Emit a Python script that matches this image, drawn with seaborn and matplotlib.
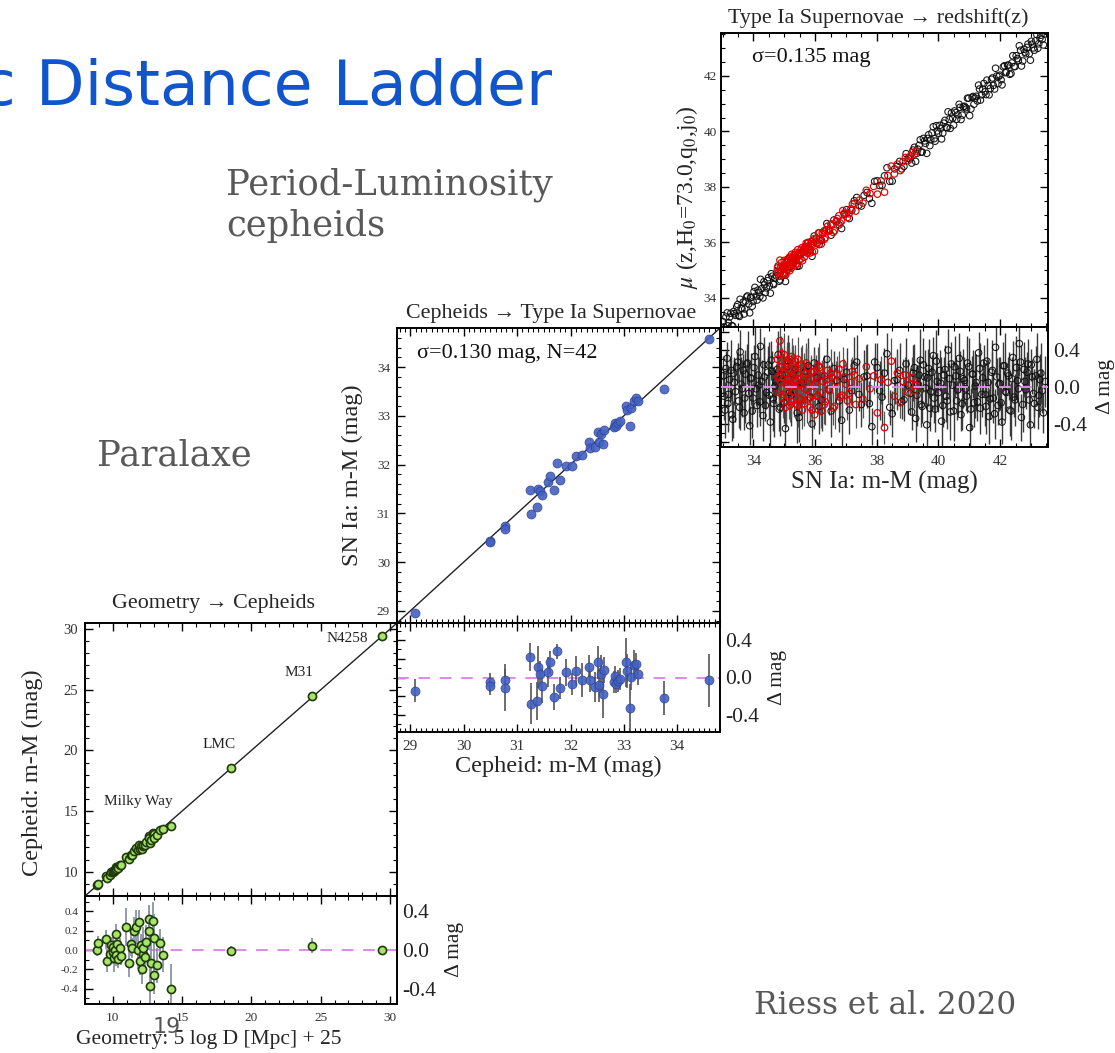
import numpy as np
import pandas as pd
import matplotlib
matplotlib.use("Agg")
import matplotlib.pyplot as plt
import seaborn as sns
from matplotlib.ticker import MultipleLocator, FixedLocator, FormatStrFormatter

# ---------------- data ----------------
# Panel A: Geometry -> Cepheids
geo_x = [8.9, 8.95, 9.5, 9.6, 9.8, 9.9, 10.0, 10.05, 10.1, 10.15,
         10.2, 10.25, 10.3, 10.4, 10.5, 10.6, 10.95, 11.2, 11.3, 11.4,
         11.5, 11.7, 11.8, 11.9, 12.0, 12.05, 12.1, 12.15, 12.2, 12.3,
         12.4, 12.6, 12.62, 12.7, 12.75, 12.9, 12.95, 13.0, 13.2, 13.4,
         13.6, 14.2, 18.55, 24.4, 29.4]
geo_resid = [0.0, 0.07, 0.11, -0.11, -0.04, 0.05, -0.02, 0.03, -0.08, 0.0,
             0.17, -0.05, 0.06, -0.09, 0.02, -0.06, 0.24, -0.13, 0.06, 0.02,
             0.2, 0.24, 0.0, 0.29, -0.11, 0.05, -0.2, -0.04, 0.02, -0.07,
             0.08, 0.32, 0.2, -0.37, -0.13, 0.3, 0.12, -0.26, -0.16, 0.07,
             -0.05, -0.4, -0.01, 0.045, 0.0]
geo_err = [0.06, 0.08, 0.1, 0.12, 0.1, 0.08, 0.12, 0.1, 0.15, 0.1,
           0.1, 0.12, 0.08, 0.1, 0.1, 0.1, 0.2, 0.15, 0.12, 0.1,
           0.14, 0.18, 0.2, 0.12, 0.15, 0.12, 0.15, 0.2, 0.22, 0.15,
           0.18, 0.15, 0.2, 0.3, 0.2, 0.2, 0.25, 0.2, 0.18, 0.15,
           0.18, 0.25, 0.05, 0.08, 0.03]
geo_names = ["Milky Way", "LMC", "M31", "N4258"]

# Panel B: Cepheids -> SN Ia (N=42)
ceph_x = [29.09, 30.49, 30.50, 30.77, 30.78, 31.25, 31.26, 31.37, 31.39, 31.42,
          31.46, 31.58, 31.61, 31.69, 31.75, 31.80, 31.92, 32.03, 32.11, 32.22,
          32.34, 32.37, 32.45, 32.51, 32.54, 32.58, 32.61, 32.63, 32.81, 32.83,
          32.86, 32.89, 32.92, 33.04, 33.05, 33.11, 33.14, 33.18, 33.23, 33.27,
          33.76, 34.60]
ceph_resid = [-0.14, -0.05, -0.09, -0.025, -0.11, 0.22, -0.28, -0.25, 0.11, 0.04,
              -0.09, 0.06, 0.16, -0.21, 0.28, -0.11, 0.054, -0.07, 0.07, -0.025,
              0.115, -0.03, -0.1, 0.16, -0.08, 0.036, -0.18, 0.08, -0.05, 0.018,
              -0.07, -0.036, -0.018, 0.16, 0.07, -0.32, 0.01, 0.13, 0.14, 0.036,
              -0.22, -0.03]
ceph_err = [0.12, 0.1, 0.1, 0.12, 0.25, 0.15, 0.22, 0.2, 0.22, 0.14,
            0.18, 0.16, 0.12, 0.14, 0.08, 0.12, 0.14, 0.12, 0.16, 0.18,
            0.12, 0.12, 0.16, 0.18, 0.18, 0.2, 0.25, 0.14, 0.12, 0.1,
            0.1, 0.12, 0.12, 0.26, 0.18, 0.25, 0.14, 0.16, 0.12, 0.12,
            0.18, 0.28]

# Panel C: SN Ia -> redshift (Hubble-flow sample, black; part 1)
sn_x_black = [33.02, 33.08, 33.15, 33.19, 33.27, 33.33, 33.38, 33.46, 33.52, 33.57,
              33.63, 33.70, 33.74, 33.81, 33.88, 33.93, 33.99, 34.05, 34.12, 34.18,
              34.23, 34.31, 34.36, 34.42, 34.49, 34.55, 34.61, 34.66, 34.74, 34.80,
              34.87, 34.95, 35.04, 35.13, 35.22, 35.36, 35.48, 35.61, 35.77, 35.90,
              36.05, 36.21, 36.38, 36.52, 36.70, 36.86, 37.02, 37.19, 37.35, 37.50,
              37.68, 37.84, 38.01, 38.17, 38.33, 38.50, 38.66, 38.81, 38.95, 39.08,
              39.18, 39.26, 39.33, 39.41, 39.47, 39.55, 39.62, 39.68, 39.75, 39.83,
              39.89, 39.96, 40.04, 40.10, 40.17, 40.25, 40.31, 40.38, 40.46, 40.52,
              40.59, 40.67, 40.73, 40.80, 40.88, 40.94, 41.01, 41.09, 41.15, 41.22,
              41.30, 41.36, 41.43, 41.51, 41.57, 41.64, 41.72, 41.78, 41.85, 41.93,
              41.99, 42.06, 42.14, 42.20, 42.27, 42.35, 42.41, 42.48, 42.56, 42.62,
              42.69, 42.77, 42.83, 42.90, 42.98, 43.04, 43.11, 43.19, 43.25, 43.32,
              43.40, 43.46]
sn_resid_black = [0.12, -0.25, 0.31, -0.08, 0.18, -0.35, 0.05, 0.22, -0.15, 0.38,
                  -0.02, -0.28, 0.14, 0.26, -0.42, 0.09, -0.12, 0.33, -0.20, 0.02,
                  0.44, -0.31, 0.11, -0.06, 0.24, -0.38, 0.17, -0.18, 0.06, 0.35,
                  -0.22, 0.13, -0.45, 0.28, -0.09, 0.19, -0.33, 0.04, 0.23, -0.40,
                  0.10, -0.14, 0.30, -0.26, 0.07, -0.36, 0.16, -0.04, 0.27, -0.19,
                  0.12, -0.43, 0.21, -0.11, 0.36, -0.29, 0.08, -0.16, 0.25, -0.07,
                  0.15, -0.34, 0.03, 0.29, -0.21, 0.11, -0.41, 0.20, -0.05, 0.34,
                  -0.24, 0.06, 0.18, -0.37, 0.13, -0.10, 0.40, -0.27, 0.02, 0.22,
                  -0.15, 0.31, -0.30, 0.09, -0.02, 0.26, -0.44, 0.14, -0.17, 0.05,
                  0.37, -0.23, 0.10, -0.08, 0.28, -0.32, 0.16, -0.12, 0.43, -0.20,
                  0.04, -0.38, 0.23, -0.06, 0.12, -0.26, 0.32, -0.14, 0.07, 0.47,
                  -0.33, 0.19, -0.03, 0.25, -0.41, 0.11, -0.18, 0.30, -0.09, 0.15,
                  -0.28, 0.06]
sn_err_black = [0.22, 0.30, 0.18, 0.27, 0.33, 0.20, 0.25, 0.16, 0.29, 0.24,
                0.31, 0.19, 0.26, 0.35, 0.21, 0.28, 0.17, 0.32, 0.23, 0.30,
                0.20, 0.27, 0.34, 0.18, 0.25, 0.29, 0.22, 0.36, 0.19, 0.26,
                0.31, 0.24, 0.20, 0.28, 0.33, 0.17, 0.27, 0.22, 0.30, 0.25,
                0.19, 0.34, 0.23, 0.28, 0.21, 0.32, 0.26, 0.18, 0.29, 0.24,
                0.35, 0.20, 0.27, 0.31, 0.22, 0.25, 0.33, 0.19, 0.28, 0.23,
                0.30, 0.26, 0.21, 0.34, 0.18, 0.29, 0.24, 0.32, 0.27, 0.20,
                0.25, 0.31, 0.22, 0.36, 0.19, 0.28, 0.23, 0.30, 0.26, 0.33,
                0.21, 0.27, 0.18, 0.32, 0.24, 0.29, 0.35, 0.20, 0.26, 0.31,
                0.23, 0.28, 0.19, 0.34, 0.25, 0.30, 0.22, 0.27, 0.33, 0.21,
                0.29, 0.24, 0.36, 0.20, 0.26, 0.31, 0.18, 0.28, 0.23, 0.35,
                0.25, 0.30, 0.21, 0.27, 0.32, 0.19, 0.26, 0.29, 0.24, 0.33,
                0.22, 0.28]
# Hubble-flow sample, black; part 2
sn_x_black2 = [33.05, 33.11, 33.17, 33.23, 33.30, 33.36, 33.42, 33.49, 33.55, 33.60,
               33.67, 33.72, 33.78, 33.85, 33.91, 33.96, 34.02, 34.09, 34.15, 34.21,
               34.27, 34.34, 34.39, 34.46, 34.52, 34.58, 34.64, 34.70, 34.77, 34.84,
               34.91, 35.00, 35.09, 35.18, 35.29, 35.42, 35.55, 35.69, 35.84, 35.97,
               36.13, 36.30, 36.45, 36.61, 36.78, 36.94, 37.11, 37.27, 37.42, 37.59,
               37.76, 37.93, 38.09, 38.25, 38.42, 38.58, 38.74, 38.88, 39.02, 39.13,
               39.22, 39.30, 39.37, 39.44, 39.51, 39.58, 39.65, 39.72, 39.79, 39.86,
               39.93, 40.00, 40.07, 40.14, 40.21, 40.28, 40.35, 40.42, 40.49, 40.56,
               40.63, 40.70, 40.77, 40.84, 40.91, 40.98, 41.05, 41.12, 41.19, 41.26,
               41.33, 41.40, 41.47, 41.54, 41.61, 41.68, 41.75, 41.82, 41.89, 41.96,
               42.03, 42.10, 42.17, 42.24, 42.31, 42.38, 42.45, 42.52, 42.59, 42.66,
               42.73, 42.80, 42.87, 42.94, 43.01, 43.08, 43.15, 43.22, 43.29, 43.36]
sn_resid_black2 = [-0.10, 0.20, -0.18, 0.08, -0.30, 0.15, -0.05, 0.27, -0.22, 0.03,
                   0.18, -0.12, 0.25, -0.07, 0.10, -0.26, 0.21, -0.02, 0.13, -0.16,
                   0.06, 0.24, -0.20, 0.16, -0.09, 0.29, -0.13, 0.01, 0.19, -0.24,
                   0.09, -0.17, 0.22, -0.06, 0.14, -0.28, 0.05, 0.17, -0.11, 0.26,
                   -0.21, 0.12, -0.03, 0.20, -0.15, 0.08, -0.25, 0.23, -0.08, 0.11,
                   -0.18, 0.27, -0.04, 0.15, -0.22, 0.07, 0.18, -0.14, 0.02, -0.27,
                   0.21, -0.09, 0.13, -0.19, 0.24, -0.01, 0.10, -0.23, 0.16, -0.12,
                   0.28, -0.06, 0.04, -0.20, 0.19, -0.15, 0.09, 0.25, -0.26, 0.12,
                   -0.03, 0.17, -0.18, 0.07, -0.10, 0.22, -0.24, 0.14, 0.01, -0.16,
                   0.20, -0.08, 0.26, -0.21, 0.05, -0.13, 0.18, -0.29, 0.11, 0.03,
                   -0.17, 0.23, -0.05, 0.15, -0.25, 0.09, -0.11, 0.21, -0.02, 0.27,
                   -0.19, 0.06, 0.16, -0.14, 0.24, -0.07, 0.12, -0.22, 0.08, -0.04]
sn_err_black2 = [0.26, 0.19, 0.31, 0.23, 0.28, 0.17, 0.33, 0.21, 0.25, 0.30,
                 0.18, 0.27, 0.22, 0.34, 0.20, 0.29, 0.24, 0.19, 0.32, 0.26,
                 0.23, 0.30, 0.17, 0.28, 0.25, 0.21, 0.35, 0.19, 0.27, 0.24,
                 0.31, 0.22, 0.18, 0.29, 0.26, 0.33, 0.20, 0.25, 0.28, 0.17,
                 0.30, 0.23, 0.27, 0.19, 0.34, 0.22, 0.26, 0.31, 0.18, 0.29,
                 0.24, 0.21, 0.32, 0.27, 0.19, 0.25, 0.30, 0.23, 0.28, 0.20,
                 0.26, 0.33, 0.18, 0.24, 0.29, 0.22, 0.31, 0.25, 0.19, 0.27,
                 0.34, 0.21, 0.28, 0.23, 0.26, 0.30, 0.17, 0.24, 0.32, 0.20,
                 0.27, 0.22, 0.29, 0.25, 0.18, 0.31, 0.23, 0.26, 0.35, 0.21,
                 0.28, 0.24, 0.19, 0.30, 0.25, 0.22, 0.33, 0.27, 0.20, 0.29,
                 0.23, 0.26, 0.31, 0.18, 0.28, 0.24, 0.21, 0.34, 0.25, 0.19,
                 0.30, 0.27, 0.22, 0.29, 0.17, 0.26, 0.32, 0.23, 0.28, 0.24]
# Calibrator-range sample (red); part 1
sn_x_red = [34.78, 34.82, 34.86, 34.89, 34.93, 34.96, 35.00, 35.03, 35.06, 35.09,
            35.12, 35.15, 35.18, 35.21, 35.24, 35.27, 35.30, 35.34, 35.37, 35.41,
            35.44, 35.48, 35.52, 35.55, 35.59, 35.63, 35.67, 35.71, 35.75, 35.79,
            35.84, 35.88, 35.93, 35.98, 36.03, 36.08, 36.14, 36.20, 36.26, 36.33,
            36.40, 36.47, 36.55, 36.63, 36.72, 36.81, 36.90, 37.00, 37.10, 37.21,
            37.32, 37.43, 37.55, 37.66, 37.78, 37.90, 38.02, 38.14, 38.25, 38.36,
            38.47, 38.57, 38.67, 38.76, 38.85, 38.93, 39.01, 39.08, 39.15, 39.22,
            39.28]
sn_resid_red = [0.30, 0.12, 0.50, 0.05, 0.22, -0.08, 0.35, 0.15, -0.15, 0.28,
                0.02, 0.18, -0.20, 0.10, 0.33, -0.05, 0.24, 0.08, -0.18, 0.14,
                0.30, -0.12, 0.04, 0.20, -0.25, 0.11, -0.02, 0.26, -0.14, 0.07,
                -0.22, 0.16, 0.01, -0.30, 0.12, -0.09, 0.21, -0.26, 0.06, -0.16,
                0.18, -0.04, 0.10, -0.21, 0.14, -0.11, 0.25, 0.03, -0.07, 0.17,
                -0.19, 0.09, -0.13, 0.22, -0.02, 0.12, -0.28, 0.08, -0.44, 0.05,
                0.28, -0.10, 0.15, -0.17, 0.06, 0.13, -0.06, 0.03, 0.10, -0.04, 0.02]
sn_err_red = [0.18, 0.22, 0.15, 0.25, 0.20, 0.17, 0.24, 0.19, 0.27, 0.16,
              0.21, 0.23, 0.18, 0.26, 0.20, 0.15, 0.22, 0.25, 0.19, 0.17,
              0.24, 0.21, 0.16, 0.23, 0.20, 0.26, 0.18, 0.22, 0.25, 0.17,
              0.21, 0.19, 0.24, 0.16, 0.23, 0.20, 0.27, 0.18, 0.22, 0.25,
              0.19, 0.21, 0.17, 0.24, 0.20, 0.26, 0.18, 0.23, 0.22, 0.16,
              0.25, 0.19, 0.21, 0.24, 0.17, 0.20, 0.23, 0.26, 0.18, 0.22,
              0.25, 0.19, 0.21, 0.17, 0.24, 0.20, 0.23, 0.18, 0.22, 0.19, 0.21]
# Calibrator-range sample (red); part 2
sn_x_red2 = [34.80, 34.84, 34.88, 34.91, 34.95, 34.98, 35.02, 35.05, 35.08, 35.11,
             35.14, 35.17, 35.20, 35.23, 35.26, 35.29, 35.32, 35.36, 35.39, 35.43,
             35.46, 35.50, 35.54, 35.57, 35.61, 35.65, 35.69, 35.73, 35.77, 35.82,
             35.86, 35.91, 35.96, 36.01, 36.06, 36.11, 36.17, 36.23, 36.30, 36.37,
             36.44, 36.51, 36.59, 36.68, 36.77, 36.86, 36.95, 37.05, 37.16, 37.27]
sn_resid_red2 = [0.10, -0.06, 0.22, 0.36, -0.12, 0.18, 0.04, -0.22, 0.26, 0.08,
                 -0.10, 0.30, 0.00, -0.16, 0.20, 0.12, -0.05, 0.28, 0.06, -0.20,
                 0.16, 0.02, -0.14, 0.24, 0.07, -0.18, 0.14, -0.03, 0.21, -0.12,
                 0.09, -0.25, 0.17, 0.04, -0.10, 0.23, -0.06, 0.12, -0.19, 0.08,
                 -0.02, 0.15, -0.23, 0.06, 0.19, -0.09, 0.11, -0.15, 0.05, 0.13]
sn_err_red2 = [0.20, 0.17, 0.24, 0.19, 0.22, 0.26, 0.18, 0.21, 0.23, 0.16,
               0.25, 0.19, 0.22, 0.17, 0.24, 0.20, 0.27, 0.18, 0.21, 0.23,
               0.19, 0.25, 0.16, 0.22, 0.20, 0.24, 0.18, 0.26, 0.21, 0.17,
               0.23, 0.19, 0.22, 0.25, 0.18, 0.20, 0.24, 0.17, 0.21, 0.23,
               0.19, 0.26, 0.18, 0.22, 0.20, 0.24, 0.17, 0.21, 0.25, 0.19]

# ---------------- style ----------------
sns.set_style("ticks")
plt.rcParams["font.family"] = ["Liberation Serif", "DejaVu Serif"]
plt.rcParams["mathtext.fontset"] = "stix"
plt.rcParams["axes.unicode_minus"] = False

W, H = 1115, 1053
fig = plt.figure(figsize=(W / 100, H / 100), dpi=100)
fig.patch.set_facecolor("white")


def add(l, t, r, b):
    return fig.add_axes([l / W, 1 - b / H, (r - l) / W, (b - t) / H])


def style(ax, xmaj, xmin, ymaj, ymin, xls, yls, labelbottom=True, labelleft=True, ypad=5):
    ax.set_facecolor("white")
    ax.xaxis.set_major_locator(MultipleLocator(xmaj))
    ax.xaxis.set_minor_locator(MultipleLocator(xmin))
    ax.yaxis.set_major_locator(MultipleLocator(ymaj))
    ax.yaxis.set_minor_locator(MultipleLocator(ymin))
    ax.tick_params(which="both", direction="in", top=True, right=True,
                   bottom=True, left=True, color="k")
    ax.tick_params(which="major", length=6, width=1.0)
    ax.tick_params(which="minor", length=3, width=0.8)
    ax.tick_params(axis="x", labelsize=xls, labelcolor="#333333", labelbottom=labelbottom, pad=6)
    ax.tick_params(axis="y", labelsize=yls, labelcolor="#333333", labelleft=labelleft, pad=ypad)
    for s in ax.spines.values():
        s.set_linewidth(1.4)
        s.set_color("k")
    ax.set_xlabel("")
    ax.set_ylabel("")


def right_labels(ax, lim):
    tw = ax.twinx()
    tw.set_ylim(*lim)
    tw.yaxis.set_major_locator(FixedLocator([-0.4, 0.0, 0.4]))
    tw.yaxis.set_major_formatter(FormatStrFormatter("%.1f"))
    tw.tick_params(axis="y", length=0, labelsize=15.5, pad=4, labelcolor="#222222")
    for s in tw.spines.values():
        s.set_visible(False)
    tw.set_ylabel("Δ mag", fontsize=15.5, rotation=90, labelpad=6, color="#222222")
    return tw


green_fc, green_ec = "#a9e36b", "#1e3b0b"
blue_fc = "#4361c2"
zero_kw = dict(color="#d98be6", lw=1.4, ls=(0, (6, 5)), zorder=1)

# ---------------- Panel A ----------------
dfa = pd.DataFrame({"x": geo_x, "resid": geo_resid, "err": geo_err})
dfa["y"] = dfa["x"] + dfa["resid"]
limA = (8.0, 30.5)

axA = add(85, 623, 397, 896)
axA.axline((limA[0], limA[0]), slope=1, color="#222222", lw=1.0, zorder=1)
sns.scatterplot(data=dfa, x="x", y="y", ax=axA, color=green_fc, edgecolor=green_ec,
                linewidth=1.2, s=34, zorder=3)
axA.set_xlim(*limA)
axA.set_ylim(*limA)
style(axA, 5, 1, 5, 1, 9.5, 10.5, labelbottom=False)
axA.set_ylabel("Cepheid: m-M (mag)", fontsize=17.5)
axA.yaxis.set_label_coords(-0.135, 0.45)
for name, tx, ty in zip(geo_names, [11.83, 17.68, 23.45, 26.9], [15.75, 20.45, 26.4, 29.2]):
    axA.text(tx, ty, name, fontsize=11, ha="center", va="center", color="#222222")

axAr = add(85, 896, 397, 1004)
axAr.axhline(0, **zero_kw)
axAr.errorbar(dfa["x"], dfa["resid"], yerr=dfa["err"], fmt="none",
              ecolor="#8a93a6", elinewidth=1.3, capsize=0, zorder=2)
sns.scatterplot(data=dfa, x="x", y="resid", ax=axAr, color=green_fc, edgecolor=green_ec,
                linewidth=1.2, s=34, zorder=3)
limAr = (-0.56, 0.56)
axAr.set_xlim(*limA)
axAr.set_ylim(*limAr)
style(axAr, 5, 1, 0.2, 0.1, 9.5, 8)
axAr.yaxis.set_major_formatter(FormatStrFormatter("%.1f"))
axAr.set_xlabel("Geometry: 5 log D [Mpc] + 25", fontsize=15.5)
axAr.xaxis.set_label_coords(0.397, -0.24)
right_labels(axAr, limAr)

# ---------------- Panel B ----------------
dfb = pd.DataFrame({"x": ceph_x, "resid": ceph_resid, "err": ceph_err})
dfb["y"] = dfb["x"] + dfb["resid"]
limB = (28.75, 34.8)

axB = add(397, 328, 720, 623)
axB.axline((limB[0], limB[0]), slope=1, color="#222222", lw=1.0, zorder=1)
sns.scatterplot(data=dfb, x="x", y="y", ax=axB, color=blue_fc, edgecolor="#2b3f8c",
                linewidth=0.5, s=42, alpha=0.9, zorder=3)
axB.set_xlim(*limB)
axB.set_ylim(*limB)
style(axB, 1, 0.1, 1, 0.2, 10, 9.5, labelbottom=False)
axB.set_ylabel("SN Ia: m-M (mag)", fontsize=17.5, labelpad=10)
axB.text(0.062, 0.898, "σ=0.130 mag, N=42", transform=axB.transAxes,
         fontsize=16, ha="left", va="baseline", color="#111111")

axBr = add(397, 623, 720, 732)
axBr.axhline(0, **zero_kw)
axBr.errorbar(dfb["x"], dfb["resid"], yerr=dfb["err"], fmt="none",
              ecolor="#555555", elinewidth=1.2, capsize=0, zorder=2)
sns.scatterplot(data=dfb, x="x", y="resid", ax=axBr, color=blue_fc, edgecolor="#2b3f8c",
                linewidth=0.5, s=42, alpha=0.9, zorder=3)
limBr = (-0.58, 0.58)
axBr.set_xlim(*limB)
axBr.set_ylim(*limBr)
style(axBr, 1, 0.1, 0.2, 0.1, 11, 8, labelleft=False)
axBr.set_xlabel("Cepheid: m-M (mag)", fontsize=17.5, labelpad=2)
right_labels(axBr, limBr)

# ---------------- Panel C ----------------
dfk = pd.concat([pd.DataFrame({"x": sn_x_black, "resid": sn_resid_black, "err": sn_err_black}),
                 pd.DataFrame({"x": sn_x_black2, "resid": sn_resid_black2, "err": sn_err_black2})],
                ignore_index=True)
dfk["y"] = dfk["x"] + dfk["resid"]
dfr = pd.concat([pd.DataFrame({"x": sn_x_red, "resid": sn_resid_red, "err": sn_err_red}),
                 pd.DataFrame({"x": sn_x_red2, "resid": sn_resid_red2, "err": sn_err_red2})],
                ignore_index=True)
dfr["y"] = dfr["x"] + dfr["resid"]
limC = (32.95, 43.55)

axC = add(721, 33, 1048, 327)
sns.scatterplot(data=dfk, x="x", y="y", ax=axC, color="none", edgecolor="#111111",
                linewidth=0.75, s=22, zorder=2)
sns.scatterplot(data=dfr, x="x", y="y", ax=axC, color="none", edgecolor="#e00000",
                linewidth=0.85, s=22, zorder=3)
axC.set_xlim(*limC)
axC.set_ylim(*limC)
style(axC, 2, 0.5, 2, 0.5, 11, 9.5, labelbottom=False, ypad=3)
axC.set_ylabel(r"$\mu$ (z,H$_0$=73.0,q$_0$,j$_0$)", fontsize=17)
axC.yaxis.set_label_coords(-0.065, 0.44)
axC.text(0.095, 0.90, "σ=0.135 mag", transform=axC.transAxes,
         fontsize=16, ha="left", va="baseline", color="#111111")

axCr = add(721, 327, 1048, 447)
axCr.errorbar(dfk["x"], dfk["resid"], yerr=dfk["err"], fmt="none",
              ecolor="#3a3a3a", elinewidth=1.0, capsize=0, zorder=1)
axCr.errorbar(dfr["x"], dfr["resid"], yerr=dfr["err"], fmt="none",
              ecolor="#555555", elinewidth=0.9, capsize=0, zorder=1)
sns.scatterplot(data=dfk, x="x", y="resid", ax=axCr, color="none", edgecolor="#111111",
                linewidth=0.75, s=22, zorder=2)
sns.scatterplot(data=dfr, x="x", y="resid", ax=axCr, color="none", edgecolor="#e00000",
                linewidth=0.9, s=22, zorder=3)
axCr.axhline(0, **dict(zero_kw, zorder=4))
limCr = (-0.65, 0.65)
axCr.set_xlim(*limC)
axCr.set_ylim(*limCr)
style(axCr, 2, 0.5, 0.2, 0.1, 11, 8, labelleft=False)
axCr.set_xlabel("SN Ia: m-M (mag)", fontsize=18, labelpad=2)
right_labels(axCr, limCr)

# ---------------- panel titles ----------------
fig.text(213 / W, 1 - 608 / H, "Geometry → Cepheids", fontsize=15.8, ha="center", va="baseline")
fig.text(551 / W, 1 - 318 / H, "Cepheids → Type Ia Supernovae", fontsize=15.8, ha="center", va="baseline")
fig.text(878 / W, 1 - 23 / H, "Type Ia Supernovae → redshift(z)", fontsize=15.8, ha="center", va="baseline")

# ---------------- slide texts ----------------
fig.text(552 / W, 1 - 105 / H, "c Distance Ladder", fontsize=45.5, color="#1155cc",
         ha="right", va="baseline", family=["DejaVu Sans"])
serif_kw = dict(fontsize=25.5, color="#595959", family=["DejaVu Serif"], ha="left", va="baseline")
fig.text(226 / W, 1 - 195 / H, "Period-Luminosity", **serif_kw)
fig.text(226 / W, 1 - 236 / H, "cepheids", **serif_kw)
fig.text(97 / W, 1 - 466 / H, "Paralaxe", **serif_kw)
fig.text(754 / W, 1 - 1014 / H, "Riess et al. 2020", **dict(serif_kw, fontsize=22.5))
fig.text(153 / W, 1 - 1033 / H, "19", fontsize=16, color="#555555", ha="left", va="baseline",
         family=["DejaVu Sans"])

fig.savefig("out.png", dpi=100, facecolor="white")
